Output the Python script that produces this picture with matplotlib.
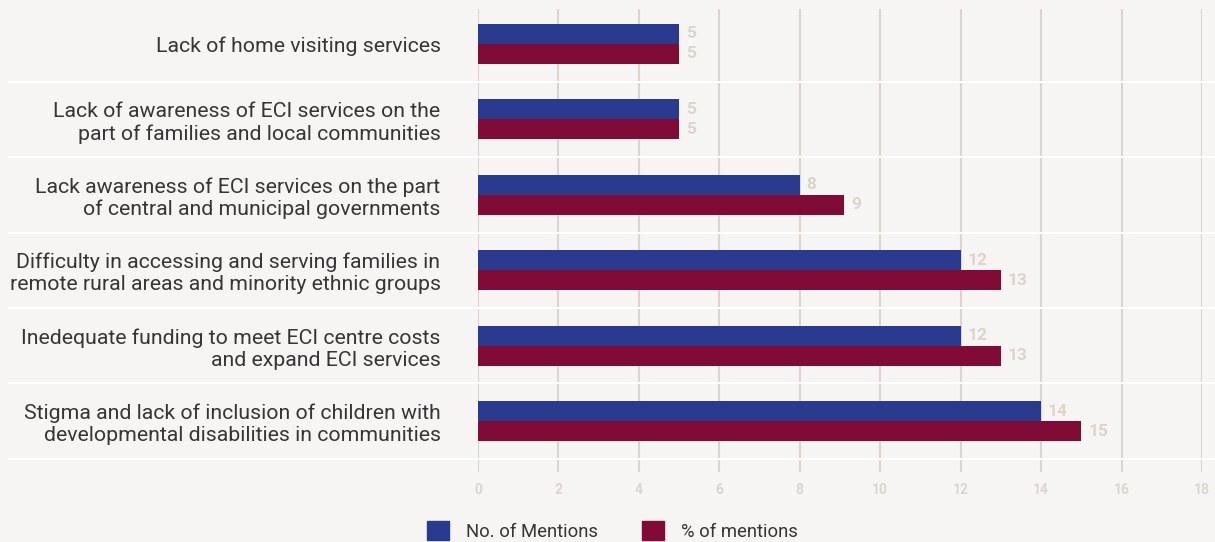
import matplotlib

matplotlib.use("Agg")
import matplotlib.pyplot as plt
import matplotlib.transforms as mtransforms
from matplotlib.patches import Patch
import numpy as np

categories = [
    "Lack of home visiting services",
    "Lack of awareness of ECI services on the\npart of families and local communities",
    "Lack awareness of ECI services on the part\nof central and municipal governments",
    "Difficulty in accessing and serving families in\nremote rural areas and minority ethnic groups",
    "Inedequate funding to meet ECI centre costs\nand expand ECI services",
    "Stigma and lack of inclusion of children with\ndevelopmental disabilities in communities",
]
mentions = [5, 5, 8, 12, 12, 14]
pct_mentions = [5, 5, 9.1, 13, 13, 15]
mentions_labels = ["5", "5", "8", "12", "12", "14"]
pct_labels = ["5", "5", "9", "13", "13", "15"]
xticks = list(range(0, 19, 2))

BG = "#f7f5f3"
GRID = "#ddd5cd"
BLUE = "#293a8f"
RED = "#800b37"
TEXT = "#363636"

W, H = 1215, 542
fig = plt.figure(figsize=(W / 100, H / 100), dpi=100, facecolor=BG)
ax = fig.add_axes([478 / W, 1 - 472 / H, (1202 - 478) / W, (472 - 9) / H])
ax.set_facecolor(BG)

y = np.arange(len(categories))
h = 0.265
ax.barh(y - h / 2, mentions, height=h, color=BLUE, zorder=3)
ax.barh(y + h / 2, pct_mentions, height=h, color=RED, zorder=3)

for yi, v, lab in zip(y, mentions, mentions_labels):
    ax.annotate(lab, (v, yi - h / 2), xytext=(5, 0), textcoords="offset points",
                va="center", ha="left", color=GRID, fontsize=12.5, fontweight="bold",
                family="Roboto", zorder=4)
for yi, v, lab in zip(y, pct_mentions, pct_labels):
    ax.annotate(lab, (v, yi + h / 2), xytext=(5, 0), textcoords="offset points",
                va="center", ha="left", color=GRID, fontsize=12.5, fontweight="bold",
                family="Roboto", zorder=4)

ax.set_xlim(0, 18)
ax.set_ylim(5.676, -0.464)
ax.set_xticks(xticks)
ax.set_xticklabels([str(t) for t in xticks], color=GRID, fontsize=10,
                   fontweight="bold", family="Roboto")
ax.set_yticks(y)
ax.set_yticklabels(categories, fontsize=15.3, color=TEXT, family="Roboto",
                   linespacing=1.2)
ax.tick_params(axis="both", length=0)
ax.tick_params(axis="y", pad=27)
ax.tick_params(axis="x", pad=8)
ax.grid(axis="x", color=GRID, linewidth=1.5, zorder=1)
for s in ax.spines.values():
    s.set_visible(False)

# white separators between categories, running across the label area
trans = mtransforms.blended_transform_factory(fig.transFigure, ax.transData)
for b in np.arange(0.5, len(categories) + 0.5, 1.0):
    ax.plot([9 / W, 1.0], [b, b], transform=trans, color="white", linewidth=1.5,
            clip_on=False, zorder=2)

handles = [Patch(color=BLUE, label="No. of Mentions"),
           Patch(color=RED, label="% of mentions")]
fig.legend(handles=handles, loc="center", bbox_to_anchor=(0.504, 1 - 531 / H),
           ncol=2, frameon=False,
           prop={"family": "Roboto", "size": 13.3},
           handlelength=1.2, handleheight=1.2, handletextpad=0.9, columnspacing=2.4,
           labelcolor=TEXT)

fig.savefig("out.png", dpi=100, facecolor=BG)
